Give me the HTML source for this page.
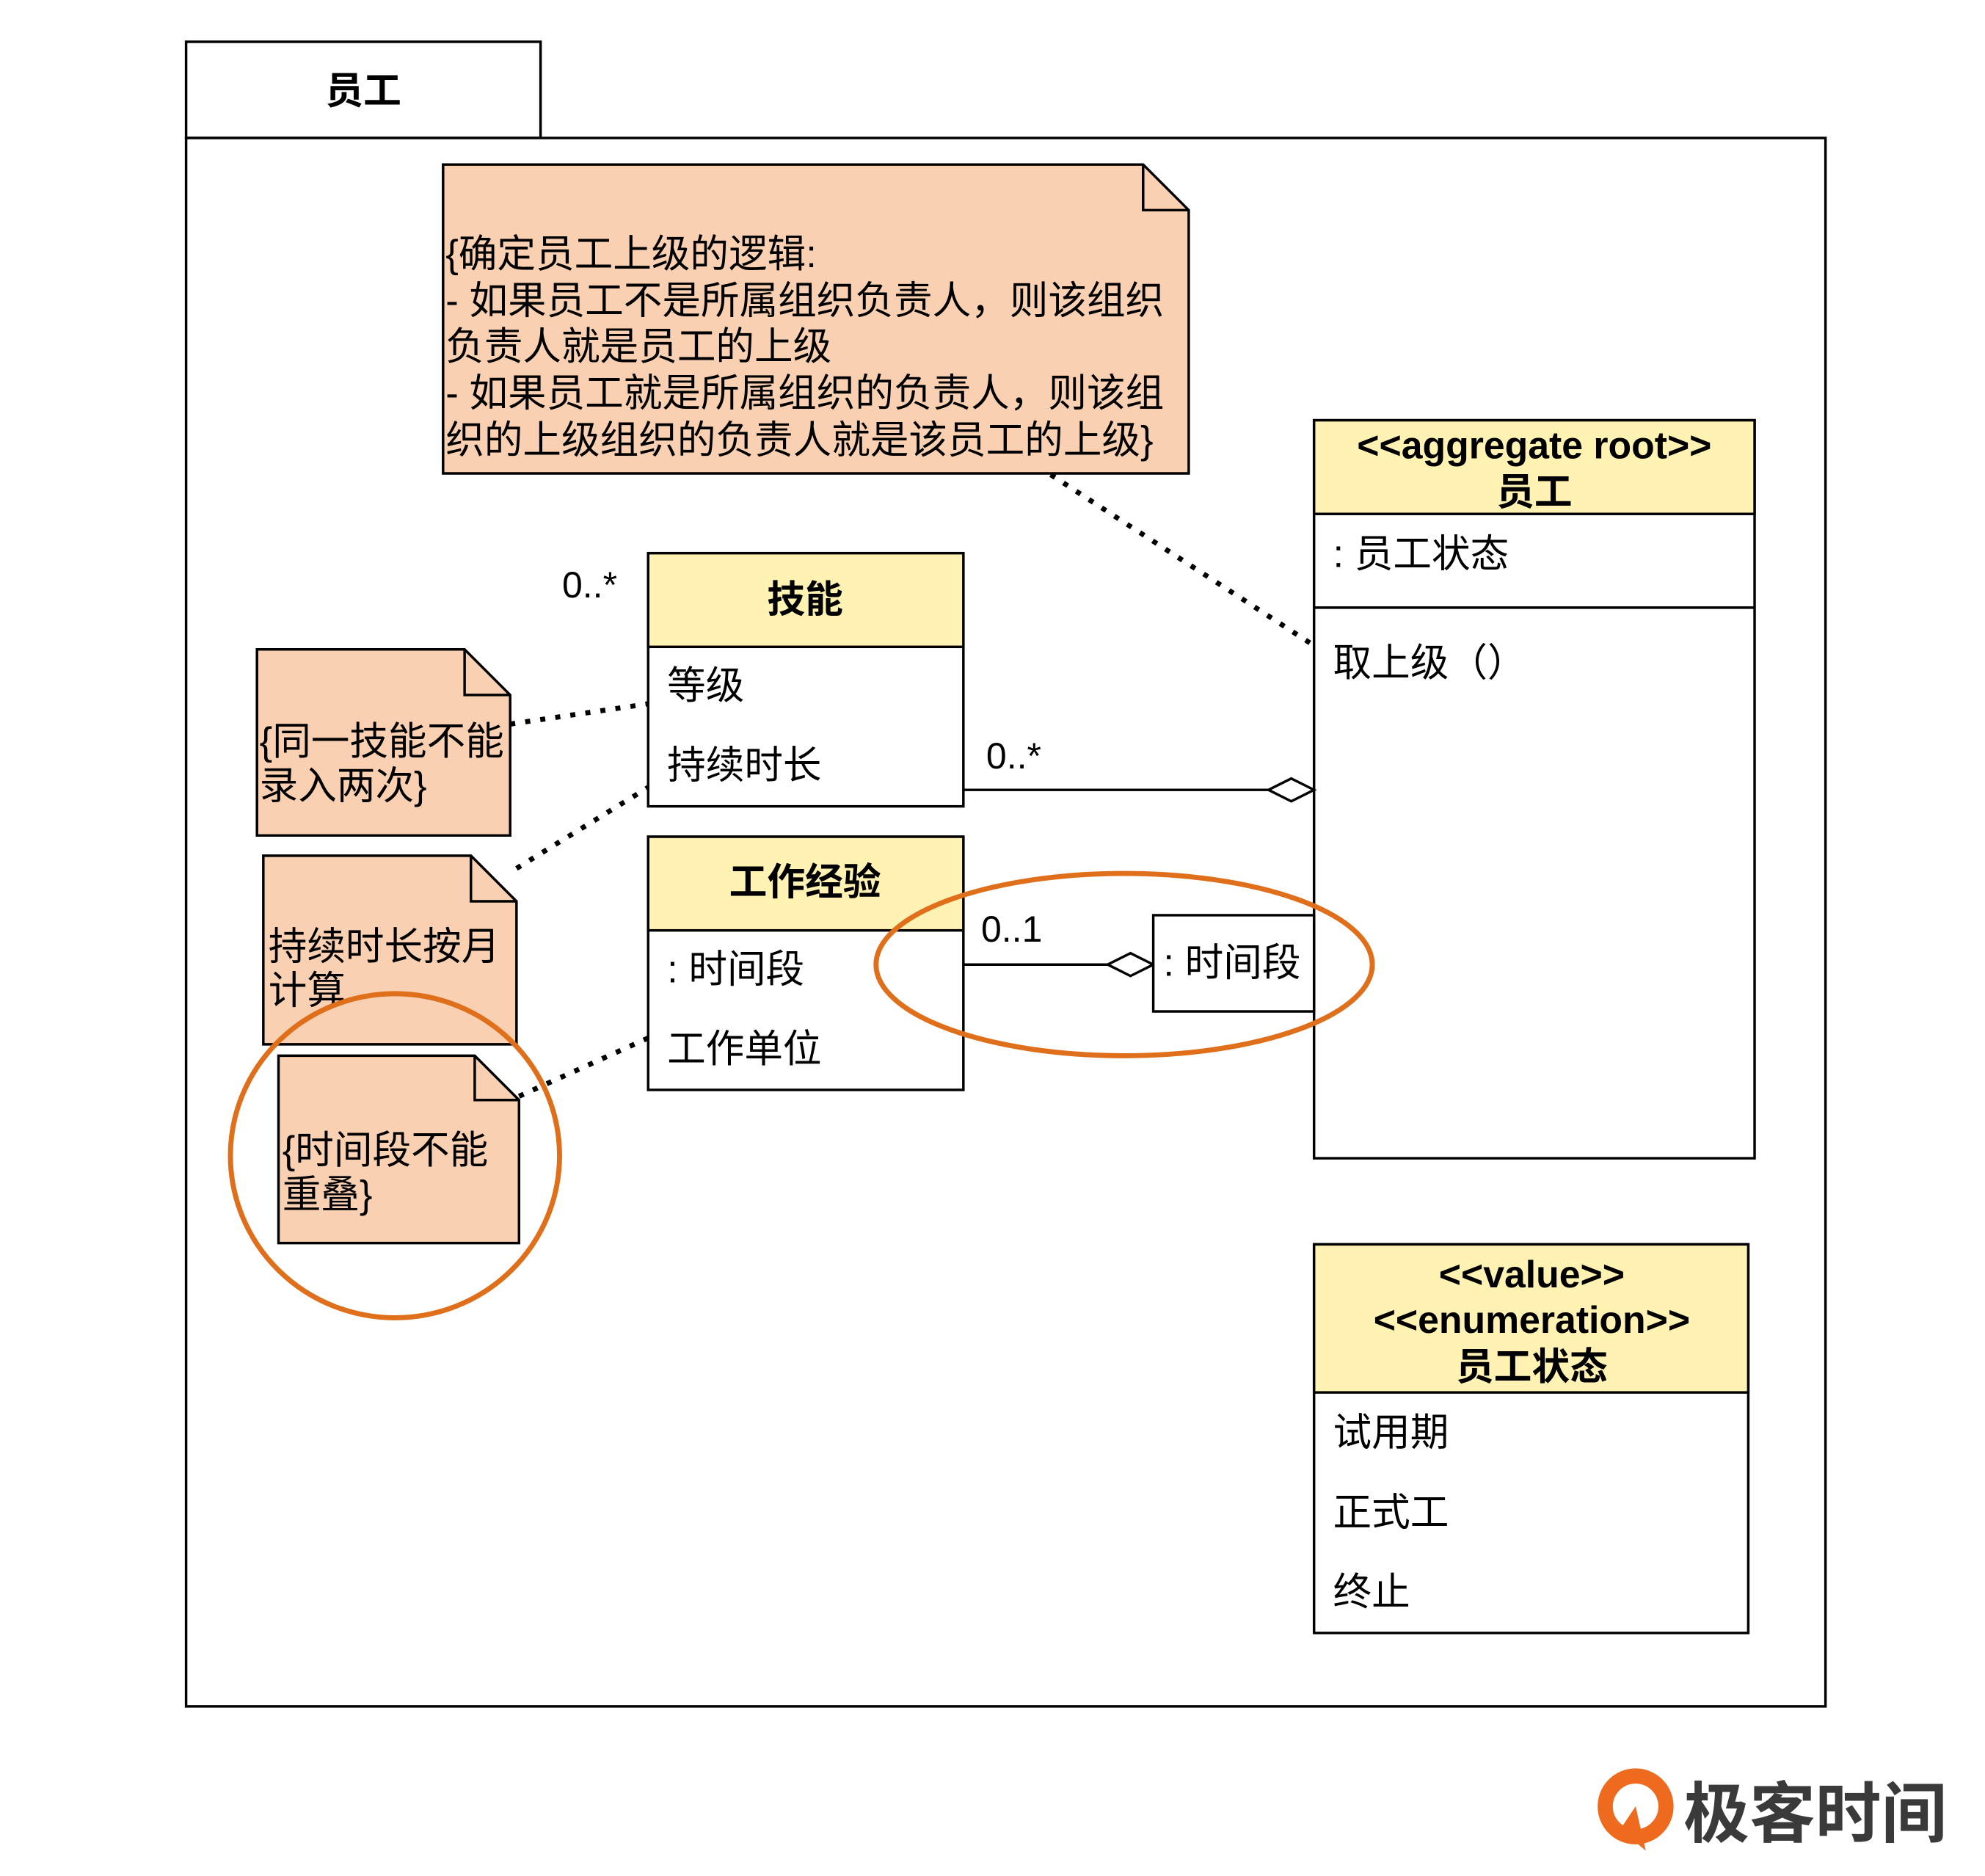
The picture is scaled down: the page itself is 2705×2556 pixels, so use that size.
<!DOCTYPE html>
<html><head><meta charset="utf-8"><style>
html,body{margin:0;padding:0;background:#fff;}
svg{display:block;}
text{font-family:"Liberation Sans","Noto Sans CJK SC",sans-serif;fill:#000;}
.b{font-weight:bold;}
</style></head><body>
<svg width="2705" height="2556" viewBox="0 0 1568 1482" preserveAspectRatio="none" xmlns="http://www.w3.org/2000/svg">
<g stroke="#000" stroke-width="2" fill="none">
<rect x="147" y="33" width="280" height="76" fill="#fff"/>
<rect x="147" y="109" width="1295" height="1239" fill="#fff"/>
</g>
<text x="287" y="82" font-size="30" text-anchor="middle" class="b">员工</text>

<path d="M350 130 H903 L939 166 V374 H350 Z" fill="#f9d1b2" stroke="#000" stroke-width="2"/>
<path d="M903 130 V166 H939" fill="none" stroke="#000" stroke-width="2"/>
<g font-size="30.5">
<text x="352" y="211">{确定员工上级的逻辑:</text>
<text x="352" y="248">- 如果员工不是所属组织负责人，则该组织</text>
<text x="352" y="284">负责人就是员工的上级</text>
<text x="352" y="321">- 如果员工就是所属组织的负责人，则该组</text>
<text x="352" y="358">织的上级组织的负责人就是该员工的上级}</text>
</g>

<g stroke="#000" stroke-width="4" stroke-dasharray="4 8" fill="none">
<line x1="830" y1="375" x2="1038" y2="510"/>
<line x1="403" y1="572" x2="512" y2="556"/>
<line x1="408" y1="686" x2="512" y2="622"/>
<line x1="410" y1="866" x2="512" y2="820"/>
</g>

<rect x="1038" y="332" width="348" height="583" fill="#fff" stroke="#000" stroke-width="2"/>
<rect x="1038" y="332" width="348" height="74" fill="#fff2b3" stroke="#000" stroke-width="2"/>
<line x1="1038" y1="480" x2="1386" y2="480" stroke="#000" stroke-width="2"/>
<text x="1212" y="362" font-size="30" text-anchor="middle" class="b">&lt;&lt;aggregate root&gt;&gt;</text>
<text x="1212" y="399" font-size="30" text-anchor="middle" class="b">员工</text>
<text x="1053" y="448" font-size="30.5">: 员工状态</text>
<text x="1053" y="534" font-size="30.5">取上级（）</text>

<rect x="512" y="437" width="249" height="200" fill="#fff" stroke="#000" stroke-width="2"/>
<rect x="512" y="437" width="249" height="74" fill="#fff2b3" stroke="#000" stroke-width="2"/>
<text x="636" y="484" font-size="30" text-anchor="middle" class="b">技能</text>
<text x="527" y="552" font-size="30.5">等级</text>
<text x="527" y="615" font-size="30.5">持续时长</text>
<text x="444" y="472" font-size="29">0..*</text>

<path d="M203 513 H367 L403 549 V660 H203 Z" fill="#f9d1b2" stroke="#000" stroke-width="2"/>
<path d="M367 513 V549 H403" fill="none" stroke="#000" stroke-width="2"/>
<text x="205" y="596" font-size="30.5">{同一技能不能</text>
<text x="205" y="631" font-size="30.5">录入两次}</text>

<path d="M208 676 H372 L408 712 V825 H208 Z" fill="#f9d1b2" stroke="#000" stroke-width="2"/>
<path d="M372 676 V712 H408" fill="none" stroke="#000" stroke-width="2"/>
<text x="212" y="758" font-size="30.5">持续时长按月</text>
<text x="212" y="793" font-size="30.5">计算</text>

<path d="M220 834 H375 L410 869 V982 H220 Z" fill="#f9d1b2" stroke="#000" stroke-width="2"/>
<path d="M375 834 V869 H410" fill="none" stroke="#000" stroke-width="2"/>
<text x="223" y="919" font-size="30.5">{时间段不能</text>
<text x="223" y="954" font-size="30.5">重叠}</text>

<rect x="512" y="661" width="249" height="200" fill="#fff" stroke="#000" stroke-width="2"/>
<rect x="512" y="661" width="249" height="74" fill="#fff2b3" stroke="#000" stroke-width="2"/>
<text x="636" y="707" font-size="30" text-anchor="middle" class="b">工作经验</text>
<text x="527" y="776" font-size="30.5">: 时间段</text>
<text x="527" y="839" font-size="30.5">工作单位</text>

<line x1="761" y1="624" x2="1002" y2="624" stroke="#000" stroke-width="2"/>
<path d="M1002 624 L1020 615 L1038 624 L1020 633 Z" fill="#fff" stroke="#000" stroke-width="2"/>
<text x="779" y="607" font-size="29">0..*</text>
<line x1="761" y1="762" x2="875" y2="762" stroke="#000" stroke-width="2"/>
<path d="M875 762 L893 753 L911 762 L893 771 Z" fill="#fff" stroke="#000" stroke-width="2"/>
<text x="775" y="744" font-size="29">0..1</text>
<rect x="911" y="723" width="127" height="76" fill="#fff" stroke="#000" stroke-width="2"/>
<text x="919" y="771" font-size="30.5">: 时间段</text>

<ellipse cx="888" cy="762" rx="196" ry="72" fill="none" stroke="#e06f1b" stroke-width="4"/>
<ellipse cx="312" cy="913" rx="130" ry="128" fill="none" stroke="#e06f1b" stroke-width="4"/>

<rect x="1038" y="983" width="343" height="307" fill="#fff" stroke="#000" stroke-width="2"/>
<rect x="1038" y="983" width="343" height="117" fill="#fff2b3" stroke="#000" stroke-width="2"/>
<text x="1210" y="1017" font-size="30" text-anchor="middle" class="b">&lt;&lt;value&gt;&gt;</text>
<text x="1210" y="1053" font-size="30" text-anchor="middle" class="b">&lt;&lt;enumeration&gt;&gt;</text>
<text x="1210" y="1090" font-size="30" text-anchor="middle" class="b">员工状态</text>
<text x="1053" y="1142" font-size="30.5">试用期</text>
<text x="1053" y="1205" font-size="30.5">正式工</text>
<text x="1053" y="1268" font-size="30.5">终止</text>

<circle cx="1292" cy="1427" r="24" fill="none" stroke="#ee6a1f" stroke-width="12"/>
<path d="M1292 1427 L1300 1462 L1280 1445 Z" fill="#ee6a1f"/>
<text x="1330" y="1451" font-size="52" class="b" style="fill:#3a3a3a">极客时间</text>
</svg>
</body></html>
